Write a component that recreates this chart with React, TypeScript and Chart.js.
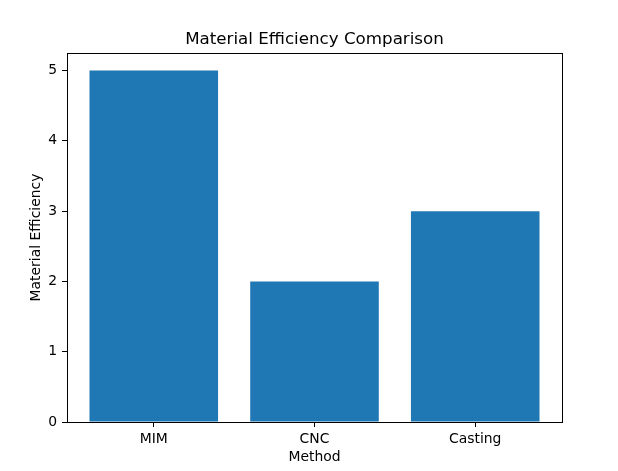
import React, { useEffect, useRef } from "react";
import { Chart, registerables } from "chart.js";

Chart.register(...registerables);

const CATEGORIES = ["MIM", "CNC", "Casting"];
const VALUES = [5, 2, 3];
const Y_TICKS = [0, 1, 2, 3, 4, 5];
const TITLE = "Material Efficiency Comparison";
const X_LABEL = "Method";
const Y_LABEL = "Material Efficiency";

const FONT = "'DejaVu Sans', sans-serif";
const TICK_SIZE = 13.9;
const TITLE_SIZE = 16.7;

const framePlugin = {
  id: "frame",
  afterDraw(chart: any) {
    const { ctx, chartArea } = chart;
    ctx.save();
    ctx.strokeStyle = "#000000";
    ctx.lineWidth = 1;
    ctx.strokeRect(
      Math.round(chartArea.left) + 0.5,
      Math.round(chartArea.top) + 0.5,
      Math.round(chartArea.right - chartArea.left),
      Math.round(chartArea.bottom - chartArea.top)
    );
    // centered title over the plot area
    ctx.fillStyle = "#000000";
    ctx.font = `${TITLE_SIZE}px ${FONT}`;
    ctx.textAlign = "center";
    ctx.textBaseline = "alphabetic";
    ctx.fillText(TITLE, (chartArea.left + chartArea.right) / 2, chartArea.top - 9);
    ctx.restore();
  },
};

export default function App() {
  const ref = useRef<HTMLCanvasElement | null>(null);

  useEffect(() => {
    if (!ref.current) return;
    const chart = new Chart(ref.current, {
      type: "bar",
      data: {
        datasets: [
          {
            data: VALUES.map((v, i) => ({ x: i, y: v })),
            backgroundColor: "#1f77b4",
            borderColor: "#1f77b4",
            borderWidth: 0,
            inflateAmount: 0,
            barPercentage: 0.8,
            categoryPercentage: 1,
          },
        ],
      },
      options: {
        animation: false,
        responsive: false,
        layout: { padding: { left: 0, right: 56, top: 53, bottom: 0 } },
        plugins: {
          legend: { display: false },
          tooltip: { enabled: false },
          title: { display: false },
        },
        scales: {
          x: {
            type: "linear",
            min: -0.54,
            max: 2.54,
            offset: false,
            afterBuildTicks: (scale: any) => {
              scale.ticks = CATEGORIES.map((_, i) => ({ value: i }));
            },
            afterFit: (scale: any) => {
              scale.height = 49;
            },
            grid: {
              display: true,
              drawOnChartArea: false,
              drawTicks: true,
              tickLength: 5,
              tickColor: "#000000",
              offset: false,
            },
            border: { display: true, color: "#000000", width: 1 },
            ticks: {
              color: "#000000",
              font: { family: FONT, size: TICK_SIZE },
              padding: 4,
              maxRotation: 0,
              autoSkip: false,
              callback: (v: any) => CATEGORIES[Math.round(Number(v))] ?? "",
            },
            title: {
              display: true,
              text: X_LABEL,
              color: "#000000",
              font: { family: FONT, size: TICK_SIZE },
              padding: { top: 0, bottom: 5.5 },
            },
          },
          y: {
            type: "linear",
            min: 0,
            max: 5.25,
            afterBuildTicks: (scale: any) => {
              scale.ticks = Y_TICKS.map((v) => ({ value: v }));
            },
            afterFit: (scale: any) => {
              scale.width = 67;
            },
            grid: {
              display: true,
              drawOnChartArea: false,
              drawTicks: true,
              tickLength: 5,
              tickColor: "#000000",
            },
            border: { display: true, color: "#000000", width: 1 },
            ticks: {
              color: "#000000",
              font: { family: FONT, size: TICK_SIZE },
              padding: 5,
              callback: (v: any) => String(v),
            },
            title: {
              display: true,
              text: Y_LABEL,
              color: "#000000",
              font: { family: FONT, size: TICK_SIZE },
              padding: { top: 27.9, bottom: 0 },
            },
          },
        },
      },
      plugins: [framePlugin],
    } as any);
    return () => chart.destroy();
  }, []);

  return (
    <div style={{ position: "absolute", left: 0, top: 0, width: 618, height: 471, background: "#ffffff" }}>
      <canvas ref={ref} width={618} height={471} style={{ display: "block" }} />
    </div>
  );
}
